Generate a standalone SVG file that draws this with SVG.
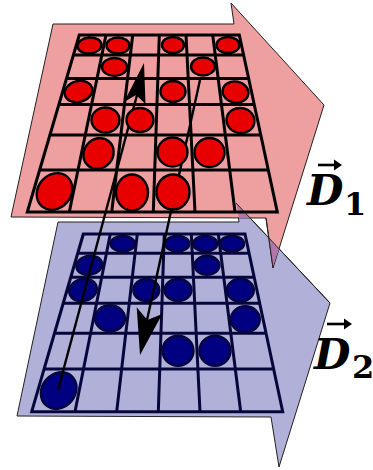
<svg xmlns="http://www.w3.org/2000/svg" width="373" height="470" viewBox="0 0 373 470">
<style>
.plane{stroke:#222;stroke-width:1;stroke-linejoin:miter}
.pink{fill:#ee9f9f}.blue{fill:#b0b0d9}
.grid{fill:none;stroke-width:3;stroke-linejoin:miter}
.rg{stroke:#000}.bg{stroke:#06063c}
.r ellipse{fill:#e80000;stroke:#000;stroke-width:2.4}
.b ellipse{fill:#000080;stroke:#06063c;stroke-width:2.4}
.arrow{fill:none;stroke:#000;stroke-width:2.4}
.tip{fill:#000;stroke:none}
.lab{font-family:"DejaVu Serif",serif;font-weight:700;fill:#000}
.d{font-size:42px;font-style:italic}.sub{font-size:32px}
</style>
<g id="plane-d2">
<polygon class="plane blue" points="58,222 239,222 236,203 330,303 279,467 271,417 17,416"/>
<path class="grid bg" d="M83.4,234H245L282.7,411.7H31.7ZM77.8,253.3H249.1M70.8,277.3H254.2M63.3,303.3H259.7M54.6,333.3H266.1M44.2,369H273.6M83.3,234L31.7,411.7M110.3,234L75,411.7M137.3,234L116.7,411.7M164.3,234L158.3,411.7M191.3,234L200,411.7M218.3,234L240.7,411.7"/>
<g class="b">
<ellipse cx="122.7" cy="243.7" rx="12" ry="8"/><ellipse cx="177.3" cy="243.7" rx="12" ry="8"/><ellipse cx="205.3" cy="243.7" rx="12" ry="8"/><ellipse cx="232" cy="243.7" rx="12" ry="8"/>
<ellipse cx="89.3" cy="265.3" rx="13" ry="9.5" transform="rotate(-10 89.3 265.3)"/><ellipse cx="207" cy="265.3" rx="12.5" ry="9.5"/>
<ellipse cx="83" cy="290" rx="14" ry="11" transform="rotate(-15 83 290)"/><ellipse cx="146.3" cy="290" rx="13" ry="11"/><ellipse cx="178" cy="290" rx="13.5" ry="11"/><ellipse cx="240.3" cy="290.3" rx="13.5" ry="11.5"/>
<ellipse cx="110" cy="318.3" rx="15" ry="13"/><ellipse cx="245.3" cy="319.3" rx="14.5" ry="13"/>
<ellipse cx="178" cy="350.7" rx="15.5" ry="15"/><ellipse cx="215" cy="350.7" rx="15.5" ry="15"/>
<ellipse cx="58.7" cy="390.5" rx="16.5" ry="19.5" transform="rotate(40 58.7 390.5)"/>
</g>
</g>
<g id="plane-d1">
<polygon class="plane pink" points="53,24 234,24 231,3 324,105 273,268 266,218 11,217"/>
<polygon fill="#b078a8" points="236.5,204 250,218 239,218"/>
<polygon fill="#b078a8" points="268.5,238 279,249 273,266"/>
<path d="M236,203L330,303M266,218L273,268" fill="none" stroke="#222" stroke-width="1"/>
<path class="grid rg" d="M79.3,35H239.3L277.3,212H27.3ZM73.4,55H243.6M66.5,78.5H248.6M58.9,104.5H254.2M49.9,135H260.7M39.6,170H268.2M79.3,35L27.3,212M106,35L69.3,212M132.7,35L111.7,212M159.3,35L153.3,212M186,35L195,212M212.7,35L235,212"/>
</g>
<g id="connectors">
<path class="arrow" d="M58,390L137,95"/>
<polygon class="tip" points="144,63 145.5,104 136,95 124,102"/>
<path class="arrow" d="M200,80L147,320"/>
<polygon class="tip" points="140,355 136.7,307.3 147.3,320 162.3,314"/>
</g>
<g id="discs-d1" class="r">
<ellipse cx="89.5" cy="45.5" rx="12" ry="8" transform="rotate(-5 89.5 45.5)"/><ellipse cx="118" cy="45.5" rx="11.5" ry="8"/><ellipse cx="173" cy="45" rx="11" ry="8"/><ellipse cx="228" cy="45" rx="11.5" ry="8"/>
<ellipse cx="114.5" cy="67" rx="12.5" ry="9"/><ellipse cx="203" cy="66.5" rx="12" ry="9"/>
<ellipse cx="78.5" cy="91.5" rx="14" ry="10.5" transform="rotate(-15 78.5 91.5)"/><ellipse cx="173" cy="91.5" rx="12.5" ry="10.5"/><ellipse cx="235.5" cy="92" rx="13" ry="10.5" transform="rotate(10 235.5 92)"/>
<ellipse cx="105.5" cy="120" rx="14" ry="12.5"/><ellipse cx="140" cy="120" rx="13.5" ry="12"/><ellipse cx="240.5" cy="120.5" rx="14" ry="12.5" transform="rotate(10 240.5 120.5)"/>
<ellipse cx="98.5" cy="153.5" rx="14.5" ry="16" transform="rotate(40 98.5 153.5)"/><ellipse cx="172.5" cy="152" rx="15" ry="14.5"/><ellipse cx="209.5" cy="152.5" rx="15" ry="14.5"/>
<ellipse cx="54.5" cy="191.5" rx="16.5" ry="19.5" transform="rotate(40 54.5 191.5)"/><ellipse cx="132" cy="192.5" rx="16" ry="18"/><ellipse cx="173" cy="192" rx="16.5" ry="17.5"/>
</g>
<g id="label-d1">
<text class="lab d" x="307" y="205">D</text><text class="lab sub" x="344" y="215">1</text>
<path d="M318,165H338" stroke="#000" stroke-width="2.6"/><polygon points="334,159.5 342,165 334,170.5" fill="#000"/>
</g>
<g id="label-d2">
<text class="lab d" x="314" y="369">D</text><text class="lab sub" x="352" y="378">2</text>
<path d="M327,324H348" stroke="#000" stroke-width="2.6"/><polygon points="344,318.5 352,324 344,329.5" fill="#000"/>
</g>
</svg>
